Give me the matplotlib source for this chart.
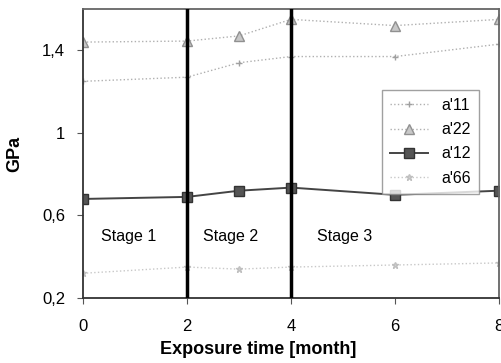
import matplotlib
matplotlib.use("Agg")
import matplotlib.pyplot as plt

plt.rcParams['font.family'] = ['Liberation Sans', 'DejaVu Sans']

months = [0, 2, 3, 4, 6, 8]
a11 = [1.25, 1.27, 1.34, 1.37, 1.37, 1.43]
a22 = [1.44, 1.445, 1.47, 1.55, 1.52, 1.55]
a12 = [0.68, 0.69, 0.72, 0.735, 0.70, 0.72]
a66 = [0.32, 0.35, 0.34, 0.35, 0.36, 0.37]

x_ticks = [0, 2, 4, 6, 8]
x_labels = ['0', '2', '4', '6', '8']
y_ticks = [0.2, 0.6, 1.0, 1.4]
y_labels = ['0,2', '0,6', '1', '1,4']
stage_bounds = [2, 4]
stage_labels = ['Stage 1', 'Stage 2', 'Stage 3']
stage_x = [0.87, 2.83, 5.03]

fig = plt.figure(figsize=(5.01, 3.63), dpi=100)
ax = fig.add_axes([0.166, 0.179, 0.830, 0.796])

ax.plot(months, a11, linestyle=':', color='#b0b0b0', lw=1.0, marker='+', ms=5,
        mec='#a0a0a0', label="a'11")
ax.plot(months, a22, linestyle=':', color='#b0b0b0', lw=1.0, marker='^', ms=6.5,
        mfc='#c8c8c8', mec='#909090', label="a'22")
ax.plot(months, a12, linestyle='-', color='#444444', lw=1.4, marker='s', ms=6.5,
        mfc='#555555', mec='#333333', label="a'12")
ax.plot(months, a66, linestyle=':', color='#c8c8c8', lw=1.0, marker='*', ms=5,
        mfc='#d0d0d0', mec='#c0c0c0', label="a'66")

for b in stage_bounds:
    ax.axvline(b, color='black', lw=2.5, zorder=5)

for sx, sl in zip(stage_x, stage_labels):
    ax.text(sx, 0.5, sl, ha='center', va='center', fontsize=11.5)

ax.set_xlim(0, 8)
ax.set_ylim(0.2, 1.6)
ax.set_xticks(x_ticks)
ax.set_xticklabels(x_labels, fontsize=12)
ax.set_yticks(y_ticks)
ax.set_yticklabels(y_labels, fontsize=12)
ax.tick_params(direction='out', length=4, color='#555555')
ax.tick_params(axis='x', pad=11)
ax.tick_params(axis='y', pad=9)

ax.set_xlabel('Exposure time [month]', fontsize=13, fontweight='bold')
ax.xaxis.set_label_coords(0.42, -0.15)
ax.set_ylabel('GPa', fontsize=13, fontweight='bold')
ax.yaxis.set_label_coords(-0.144, 0.5)

for side in ['left', 'bottom']:
    ax.spines[side].set_color('#333333')
    ax.spines[side].set_linewidth(1.3)
for side in ['top', 'right']:
    ax.spines[side].set_color('#666666')
    ax.spines[side].set_linewidth(1.3)

leg = ax.legend(loc='upper left', bbox_to_anchor=(0.719, 0.72), fontsize=11.5,
                frameon=True, fancybox=False, edgecolor='#888888',
                handlelength=2.4, labelspacing=0.58, borderpad=0.5,
                borderaxespad=0)
leg.get_frame().set_linewidth(1.0)
leg.set_zorder(10)

fig.savefig('out.png', dpi=100)
